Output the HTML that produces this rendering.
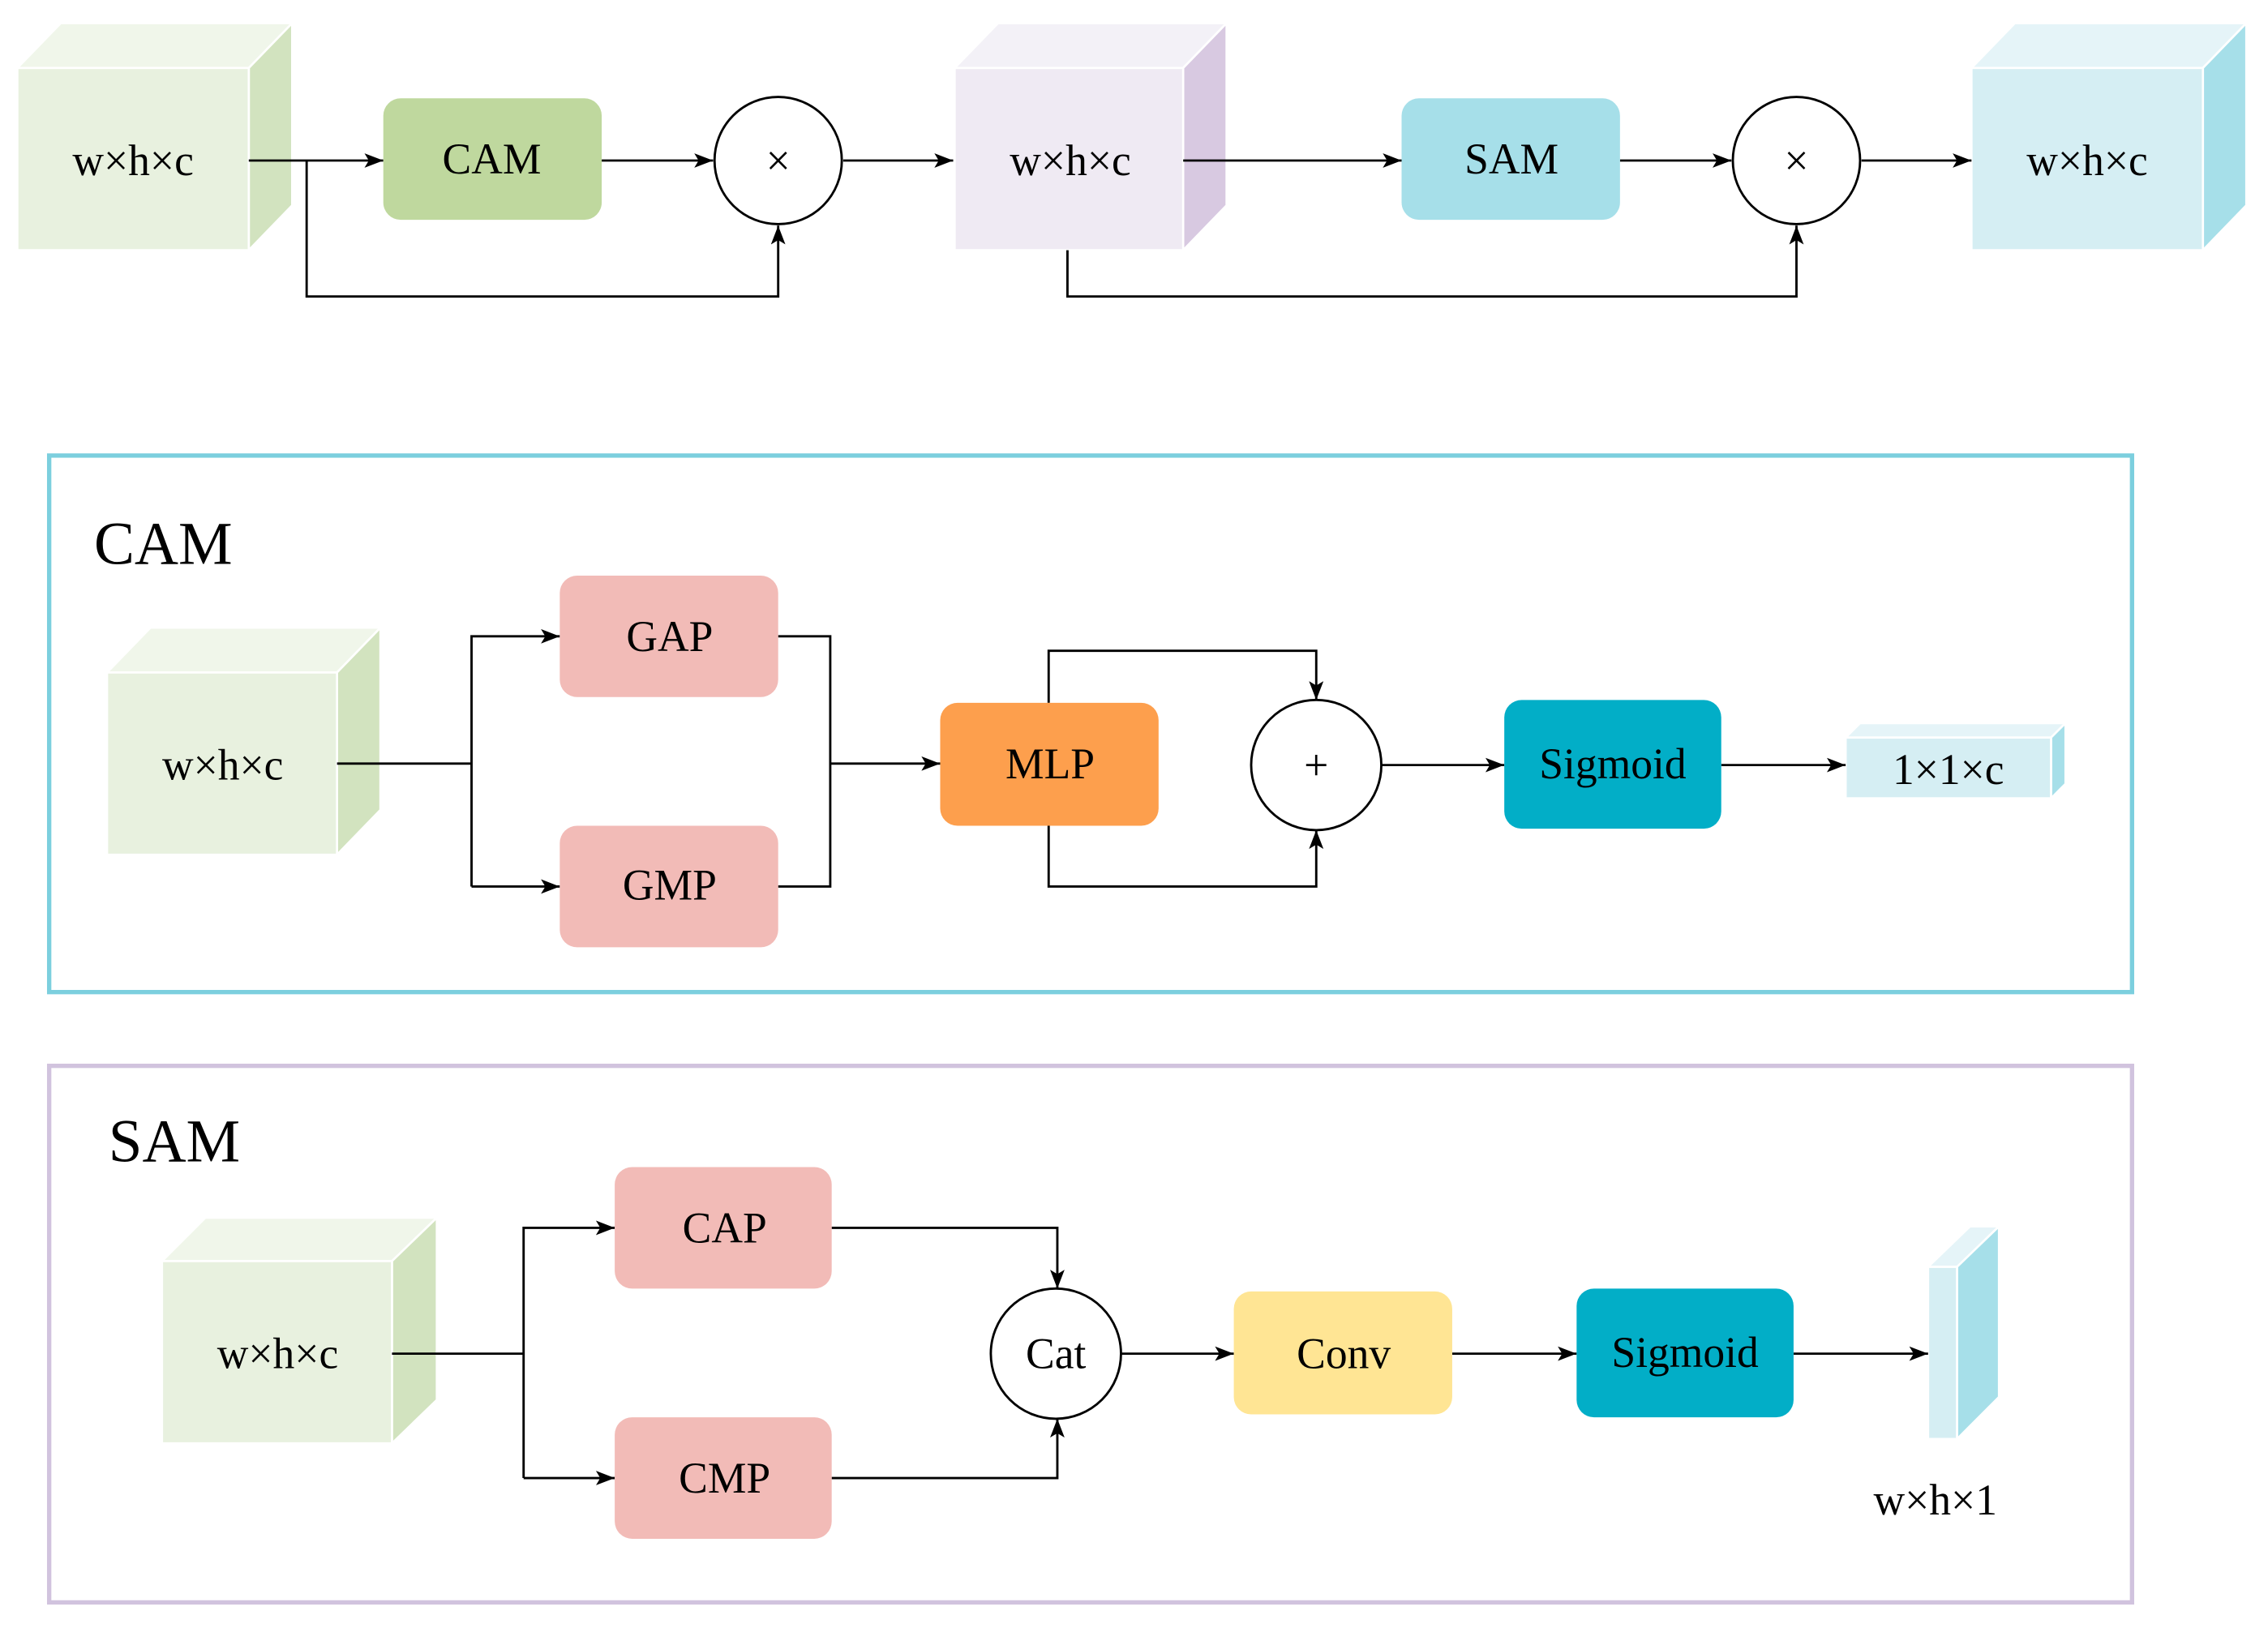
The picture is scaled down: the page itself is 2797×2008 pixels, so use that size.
<!DOCTYPE html>
<html><head><meta charset="utf-8"><style>html,body{margin:0;padding:0;background:#fff}svg{display:block}</style></head>
<body>
<svg width="2797" height="2008" viewBox="0 0 1568 1125.7" preserveAspectRatio="none" xmlns="http://www.w3.org/2000/svg" font-family="'Liberation Serif', serif">
<defs>
<marker id="a" markerWidth="13" markerHeight="10" refX="13" refY="5" orient="auto" markerUnits="userSpaceOnUse">
<path d="M0,0 L13,5 L0,10 L3,5 Z" fill="#000"/></marker>
</defs>
<!-- cubes -->
<g stroke="#fff" stroke-width="1.5">
<polygon points="12,47 42,16 202,16 172,47" fill="#f0f6ea"/>
<polygon points="172,47 202,16 202,142 172,173" fill="#d2e3bf"/>
<rect x="12" y="47" width="160" height="126" fill="#e8f1df"/>
<polygon points="660,47 690,16 848,16 818,47" fill="#f3f1f7"/>
<polygon points="818,47 848,16 848,142 818,173" fill="#d8c9e1"/>
<rect x="660" y="47" width="158" height="126" fill="#efeaf3"/>
<polygon points="1363,47 1393,16 1553,16 1523,47" fill="#e5f4f8"/>
<polygon points="1523,47 1553,16 1553,142 1523,173" fill="#a6dfe9"/>
<rect x="1363" y="47" width="160" height="126" fill="#d5eef3"/>
<polygon points="74,465 104,434 263,434 233,465" fill="#f0f6ea"/>
<polygon points="233,465 263,434 263,560 233,591" fill="#d2e3bf"/>
<rect x="74" y="465" width="159" height="126" fill="#e8f1df"/>
<polygon points="1276,510 1286,500 1428,500 1418,510" fill="#e5f4f8"/>
<polygon points="1418,510 1428,500 1428,542 1418,552" fill="#a6dfe9"/>
<rect x="1276" y="510" width="142" height="42" fill="#d5eef3"/>
<polygon points="112,872 142,842 302,842 271,872" fill="#f0f6ea"/>
<polygon points="271,872 302,842 302,968 271,998" fill="#d2e3bf"/>
<rect x="112" y="872" width="159" height="126" fill="#e8f1df"/>
<polygon points="1333,876 1362,848 1382,848 1353,876" fill="#e5f4f8"/>
<polygon points="1353,876 1382,848 1382,966 1353,995" fill="#a6dfe9"/>
<rect x="1333" y="876" width="20" height="119" fill="#d5eef3"/>
</g>
<g stroke="#000" stroke-width="1.6" fill="none">
<path d="M172,111 H265" marker-end="url(#a)"/>
<path d="M212,111 V205 H538 V156" marker-end="url(#a)"/>
<path d="M416,111 H493" marker-end="url(#a)"/>
<path d="M583,111 H659" marker-end="url(#a)"/>
<path d="M818,111 H969" marker-end="url(#a)"/>
<path d="M738,173 V205 H1242 V156" marker-end="url(#a)"/>
<path d="M1120,111 H1197" marker-end="url(#a)"/>
<path d="M1287,111 H1363" marker-end="url(#a)"/>
<path d="M233,528 H326"/>
<path d="M326,613 V440 H387" marker-end="url(#a)"/>
<path d="M326,613 H387" marker-end="url(#a)"/>
<path d="M538,440 H574 V613 H538"/>
<path d="M574,528 H650" marker-end="url(#a)"/>
<path d="M725,486 V450 H910 V484" marker-end="url(#a)"/>
<path d="M725,571 V613 H910 V574" marker-end="url(#a)"/>
<path d="M955,529 H1040" marker-end="url(#a)"/>
<path d="M1190,529 H1276" marker-end="url(#a)"/>
<path d="M271,936 H362"/>
<path d="M362,1022 V849 H425" marker-end="url(#a)"/>
<path d="M362,1022 H425" marker-end="url(#a)"/>
<path d="M575,849 H731 V891" marker-end="url(#a)"/>
<path d="M575,1022 H731 V981" marker-end="url(#a)"/>
<path d="M775,936 H853" marker-end="url(#a)"/>
<path d="M1004,936 H1090" marker-end="url(#a)"/>
<path d="M1240,936 H1333" marker-end="url(#a)"/>
</g>
<!-- boxes -->
<rect x="265" y="68" width="151" height="84" rx="12" fill="#bfd89e"/>
<rect x="969" y="68" width="151" height="84" rx="12" fill="#a6dfe9"/>
<rect x="387" y="398" width="151" height="84" rx="12" fill="#f2bbb7"/>
<rect x="387" y="571" width="151" height="84" rx="12" fill="#f2bbb7"/>
<rect x="650" y="486" width="151" height="85" rx="12" fill="#fd9f4d"/>
<rect x="1040" y="484" width="150" height="89" rx="12" fill="#02aec7"/>
<rect x="425" y="807" width="150" height="84" rx="12" fill="#f2bbb7"/>
<rect x="425" y="980" width="150" height="84" rx="12" fill="#f2bbb7"/>
<rect x="853" y="893" width="151" height="85" rx="12" fill="#ffe594"/>
<rect x="1090" y="891" width="150" height="89" rx="12" fill="#02aec7"/>
<g fill="#fff" stroke="#000" stroke-width="1.6">
<circle cx="538" cy="111" r="44"/>
<circle cx="1242" cy="111" r="44"/>
<circle cx="910" cy="529" r="45"/>
<circle cx="730" cy="936" r="45"/>
</g>
<rect x="34" y="315" width="1440" height="371" fill="none" stroke="#7ccfde" stroke-width="3"/>
<rect x="34" y="737" width="1440" height="371" fill="none" stroke="#d1c3de" stroke-width="3"/>
<g font-size="30" text-anchor="middle" dominant-baseline="central" fill="#000">
<text x="92" y="111">w×h×c</text>
<text x="340" y="110">CAM</text>
<text x="538" y="111">×</text>
<text x="740" y="111">w×h×c</text>
<text x="1045" y="110">SAM</text>
<text x="1242" y="111">×</text>
<text x="1443" y="111">w×h×c</text>
<text x="154" y="529">w×h×c</text>
<text x="463" y="440">GAP</text>
<text x="463" y="612">GMP</text>
<text x="726" y="528">MLP</text>
<text x="910" y="529">+</text>
<text x="1115" y="528">Sigmoid</text>
<text x="1347" y="532">1×1×c</text>
<text x="192" y="936">w×h×c</text>
<text x="501" y="849">CAP</text>
<text x="501" y="1022">CMP</text>
<text x="730" y="936">Cat</text>
<text x="929" y="936">Conv</text>
<text x="1165" y="935">Sigmoid</text>
<text x="1338" y="1037">w×h×1</text>
</g>
<text x="65" y="390" font-size="42">CAM</text>
<text x="75" y="803" font-size="42">SAM</text>
</svg>
</body></html>
